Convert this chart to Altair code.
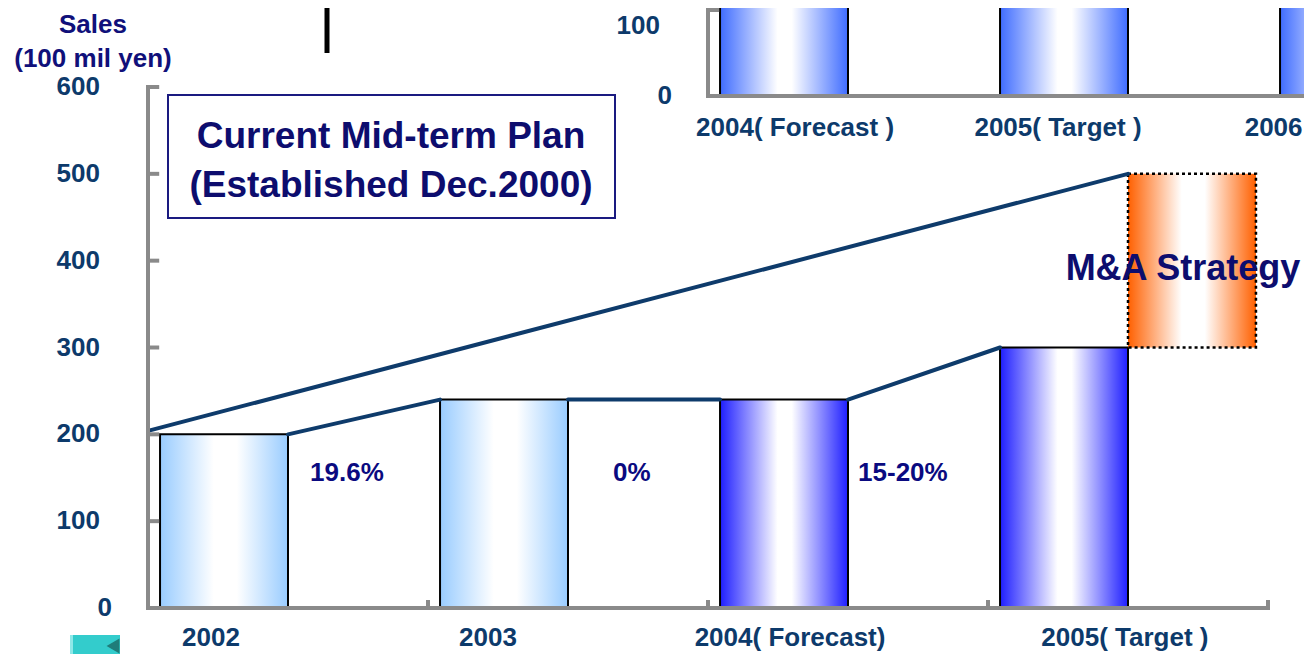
import altair as alt
import pandas as pd

# ---------------- data ----------------
years = ["2002", "2003", "2004", "2005"]
year_labels = ["2002", "2003", "2004( Forecast)", "2005( Target )"]
sales = [200, 240, 240, 300]
bar_style = ["light", "light", "dark", "dark"]
growth_labels = ["19.6%", "0%", "15-20%"]
ma_low, ma_high = 300, 500
plan_start, plan_end = 204, 500
y_ticks = [0, 100, 200, 300, 400, 500, 600]

inset_labels = ["2004( Forecast )", "2005( Target )", "2006"]
inset_values = [240, 300, 360]   # bars run off the top of the picture
inset_ticks = [0, 100]

# ---------------- layout / style ----------------
FONT = "Liberation Sans"
NAVY = "#0D0D6E"
AXIS_TXT = "#0D3A6B"
LINE = "#0E3B6B"
AXIS_GRAY = "#8A8A8A"
BAR_OFF, BAR_W = 0.043, 0.457
XLABEL_SHIFT = [0.225, 0.214, 0.293, 0.489]
GROWTH_SHIFT = [0.579, 0.661, 0.536]
GROWTH_Y = 155
INSET_SLOT0 = 2
INSET_LABEL_SHIFT = [0.311, 0.25, 0.02]

XS = alt.Scale(domain=[0, 4], range=[0, 1120], nice=False)
YS = alt.Scale(domain=[0, 600], range=[600, 79], nice=False)
YI = alt.Scale(domain=[0, 100], range=[88, 2], nice=False)


def grad(edge, lo, hi):
    return alt.LinearGradient(
        gradient="linear", x1=0, x2=1, y1=0, y2=0,
        stops=[alt.GradientStop(color=edge, offset=0),
               alt.GradientStop(color="#FFFFFF", offset=lo),
               alt.GradientStop(color="#FFFFFF", offset=hi),
               alt.GradientStop(color=edge, offset=1)])


LIGHT = grad("#99CCFF", 0.42, 0.6)
DARK = grad("#1E1EFF", 0.45, 0.56)
INSET = grad("#3F6CFF", 0.45, 0.56)
ORANGE = grad("#FF6000", 0.42, 0.6)

# ---------------- frames ----------------
bars = pd.DataFrame({
    "slot": range(len(years)), "year": years, "v": sales, "style": bar_style,
})
bars["x0"] = bars["slot"] + BAR_OFF
bars["x1"] = bars["x0"] + BAR_W
bars["zero"] = 0

conn = pd.DataFrame({
    "xa": bars["x1"].iloc[:-1].values, "ya": bars["v"].iloc[:-1].values,
    "xb": bars["x0"].iloc[1:].values, "yb": bars["v"].iloc[1:].values,
})

ma_x0 = bars["x1"].iloc[-1]
ma = pd.DataFrame({"x0": [ma_x0], "x1": [ma_x0 + BAR_W], "lo": [ma_low], "hi": [ma_high],
                   "mid": [(ma_low + ma_high) / 2], "xc": [ma_x0 + BAR_W / 2],
                   "t": ["M&A Strategy"]})
plan = pd.DataFrame({"xa": [0], "ya": [plan_start], "xb": [ma_x0], "yb": [plan_end]})

growth = pd.DataFrame({"t": growth_labels,
                       "x": [i + s for i, s in enumerate(GROWTH_SHIFT)],
                       "y": GROWTH_Y})
xlab = pd.DataFrame({"t": year_labels,
                     "x": [i + s for i, s in enumerate(XLABEL_SHIFT)], "zero": 0})
yt = pd.DataFrame({"v": y_ticks, "t": [str(v) for v in y_ticks], "ax": 0, "ax2": 0.04})
axis_df = pd.DataFrame({"x0": [0], "x1": [4], "y0": [0], "y1": [600]})
xt = pd.DataFrame({"x": [1, 2, 3, 4], "y0": 0, "y1": 9.2})

# ---------------- main chart ----------------
def X(f):
    return alt.X(f, type="quantitative", scale=XS, axis=None)


def Y(f):
    return alt.Y(f, type="quantitative", scale=YS, axis=None)


light_bars = alt.Chart(bars).transform_filter(alt.datum.style == "light").mark_rect(
    fill=LIGHT, stroke="black", strokeWidth=2).encode(x=X("x0"), x2="x1", y=Y("v"), y2="zero")
dark_bars = alt.Chart(bars).transform_filter(alt.datum.style == "dark").mark_rect(
    fill=DARK, stroke="black", strokeWidth=2).encode(x=X("x0"), x2="x1", y=Y("v"), y2="zero")
ma_box = alt.Chart(ma).mark_rect(fill=ORANGE, stroke="black", strokeWidth=2.5,
                                 strokeDash=[3, 3]).encode(x=X("x0"), x2="x1", y=Y("lo"), y2="hi")
ma_text = alt.Chart(ma).mark_text(font=FONT, fontWeight="bold", fontSize=36, color=NAVY,
                                  baseline="middle", dy=8, dx=-9).encode(
    x=X("xc"), y=Y("mid"), text="t")
conn_lines = alt.Chart(conn).mark_rule(color=LINE, strokeWidth=4, strokeCap="round").encode(
    x=X("xa"), y=Y("ya"), x2="xb", y2="yb")
plan_line = alt.Chart(plan).mark_rule(color=LINE, strokeWidth=4, strokeCap="round").encode(
    x=X("xa"), y=Y("ya"), x2="xb", y2="yb")
growth_txt = alt.Chart(growth).mark_text(font=FONT, fontWeight="bold", fontSize=26, color="#0A0A80",
                                         align="left", baseline="middle").encode(
    x=X("x"), y=Y("y"), text="t")

y_axis = alt.Chart(axis_df).mark_rule(color=AXIS_GRAY, strokeWidth=4, strokeCap="square").encode(
    x=X("x0"), y=Y("y0"), y2="y1")
x_axis = alt.Chart(axis_df).mark_rule(color=AXIS_GRAY, strokeWidth=4, strokeCap="square").encode(
    x=X("x0"), x2="x1", y=Y("y0"))
y_tick_marks = alt.Chart(yt).mark_rule(color=AXIS_GRAY, strokeWidth=4).encode(
    x=X("ax"), x2="ax2", y=Y("v"))
x_tick_marks = alt.Chart(xt).mark_rule(color=AXIS_GRAY, strokeWidth=4).encode(
    x=X("x"), y=Y("y0"), y2="y1")
y_lab = alt.Chart(yt).transform_filter(alt.datum.v != 0).mark_text(
    font=FONT, fontWeight="bold", fontSize=26, color=AXIS_TXT, align="right",
    baseline="middle", dx=-48).encode(x=X("ax"), y=Y("v"), text="t")
y_lab0 = alt.Chart(yt).transform_filter(alt.datum.v == 0).mark_text(
    font=FONT, fontWeight="bold", fontSize=26, color=AXIS_TXT, align="right",
    baseline="middle", dx=-36).encode(x=X("ax"), y=Y("v"), text="t")
x_lab = alt.Chart(xlab).mark_text(font=FONT, fontWeight="bold", fontSize=26, color=AXIS_TXT,
                                  baseline="middle", dy=30).encode(x=X("x"), y=Y("zero"), text="t")

one = pd.DataFrame({"a": [0]})
title_box = alt.Chart(one).mark_rect(fill="white", stroke="#1A1A80", strokeWidth=2).encode(
    x=alt.value(20), x2=alt.value(467), y=alt.value(87), y2=alt.value(210))
title1 = alt.Chart(one).mark_text(text="Current Mid-term Plan", font=FONT, fontWeight="bold",
                                  fontSize=37, color=NAVY, baseline="alphabetic").encode(
    x=alt.value(243), y=alt.value(140))
title2 = alt.Chart(one).mark_text(text="(Established Dec.2000)", font=FONT, fontWeight="bold",
                                  fontSize=37, color=NAVY, baseline="alphabetic").encode(
    x=alt.value(243), y=alt.value(189))
sales1 = alt.Chart(one).mark_text(text="Sales", font=FONT, fontWeight="bold", fontSize=26,
                                  color="#10107A", baseline="alphabetic").encode(
    x=alt.value(-55), y=alt.value(25))
sales2 = alt.Chart(one).mark_text(text="(100 mil yen)", font=FONT, fontWeight="bold", fontSize=26,
                                  color="#10107A", baseline="alphabetic").encode(
    x=alt.value(-55), y=alt.value(59))
black_bar = alt.Chart(one).mark_rule(color="black", strokeWidth=5).encode(
    x=alt.value(179), y=alt.value(-8), y2=alt.value(45))
btn = alt.Chart(one).mark_rect(color="#33CCCC").encode(
    x=alt.value(-78), x2=alt.value(-28), y=alt.value(627), y2=alt.value(646))
btn_strip = alt.Chart(one).mark_rect(color="#8FE8E8").encode(
    x=alt.value(-78), x2=alt.value(-75), y=alt.value(627), y2=alt.value(646))
btn_tri = alt.Chart(one).mark_point(shape="triangle-left", filled=True, color="#1F7D7A",
                                    size=220, opacity=1).encode(
    x=alt.value(-35), y=alt.value(638))

main = alt.layer(
    light_bars, dark_bars, ma_box, conn_lines, plan_line, ma_text, growth_txt,
    y_axis, x_axis, y_tick_marks, x_tick_marks, y_lab, y_lab0, x_lab,
    title_box, title1, title2, sales1, sales2, black_bar, btn, btn_strip, btn_tri,
)

# ---------------- inset (top right) ----------------
ib = pd.DataFrame({"slot": [INSET_SLOT0 + i for i in range(len(inset_values))],
                   "v": inset_values, "t": inset_labels})
ib["x0"] = ib["slot"] + BAR_OFF
ib["x1"] = ib["x0"] + BAR_W
ib["xl"] = ib["slot"] + INSET_LABEL_SHIFT
ib["zero"] = 0
iax = pd.DataFrame({"x0": [INSET_SLOT0], "x1": [4.3], "y0": [0], "y1": [130]})
itk = pd.DataFrame({"v": inset_ticks, "t": [str(v) for v in inset_ticks],
                    "ax": INSET_SLOT0, "ax2": INSET_SLOT0 + 0.04})


def YN(f):
    return alt.Y(f, type="quantitative", scale=YI, axis=None)


inset_bars = alt.Chart(ib).mark_rect(fill=INSET, stroke="black", strokeWidth=2).encode(
    x=X("x0"), x2="x1", y=YN("v"), y2="zero")
inset_yaxis = alt.Chart(iax).mark_rule(color=AXIS_GRAY, strokeWidth=4, strokeCap="square").encode(
    x=X("x0"), y=YN("y0"), y2="y1")
inset_xaxis = alt.Chart(iax).mark_rule(color=AXIS_GRAY, strokeWidth=4, strokeCap="square").encode(
    x=X("x0"), x2="x1", y=YN("y0"))
inset_ticks_m = alt.Chart(itk).transform_filter(alt.datum.v != 0).mark_rule(
    color=AXIS_GRAY, strokeWidth=4).encode(x=X("ax"), x2="ax2", y=YN("v"))
inset_ylab = alt.Chart(itk).transform_filter(alt.datum.v != 0).mark_text(
    font=FONT, fontWeight="bold", fontSize=26, color=AXIS_TXT, align="right",
    baseline="middle", dx=-48, dy=16).encode(x=X("ax"), y=YN("v"), text="t")
inset_ylab0 = alt.Chart(itk).transform_filter(alt.datum.v == 0).mark_text(
    font=FONT, fontWeight="bold", fontSize=26, color=AXIS_TXT, align="right",
    baseline="middle", dx=-36).encode(x=X("ax"), y=YN("v"), text="t")
inset_xlab = alt.Chart(ib).mark_text(font=FONT, fontWeight="bold", fontSize=26, color=AXIS_TXT,
                                     baseline="middle", dy=32).encode(
    x=X("xl"), y=YN("zero"), text="t")

inset = alt.layer(inset_bars, inset_yaxis, inset_xaxis, inset_ticks_m,
                  inset_ylab, inset_ylab0, inset_xlab)

chart = alt.layer(main, inset).resolve_scale(y="independent").properties(
    width=1156, height=646,
    padding={"left": 140, "top": 0, "right": 0, "bottom": 0},
    autosize=alt.AutoSizeParams(type="none"),
    background="white",
).configure_view(stroke=None)

chart.save("out.html", embed_options={"renderer": "svg", "actions": False})
